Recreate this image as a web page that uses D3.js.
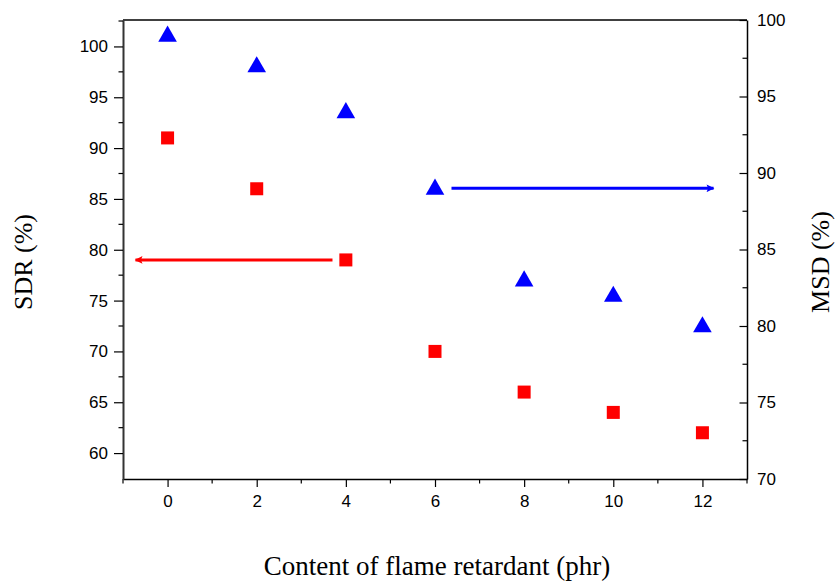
<!DOCTYPE html>
<html>
<head>
<meta charset="utf-8">
<script src="https://cdn.jsdelivr.net/npm/d3@7"></script>
<style>
  body { margin: 0; background: #fff; }
  .tick text { font-family: "Liberation Sans", Arial, sans-serif; font-size: 17px; fill: #000; }
  .title { font-family: "Liberation Serif", "Times New Roman", serif; font-size: 27px; fill: #000; }
  .ytitle { font-family: "Liberation Serif", "Times New Roman", serif; font-size: 26px; fill: #000; }
</style>
</head>
<body>
<div id="chart"></div>
<script>
const content = [0, 2, 4, 6, 8, 10, 12]
const sdr = [91, 86, 79, 70, 66, 64, 62]
const msd = [99, 97, 94, 89, 83, 82, 80]
const xTicks = [0, 2, 4, 6, 8, 10, 12]
const sdrTicks = [60, 65, 70, 75, 80, 85, 90, 95, 100]
const msdTicks = [70, 75, 80, 85, 90, 95, 100]

// arrows in data units: [x start, x end, y value]
const sdrArrow = [3.7, -0.72, 79]
const msdArrow = [6.37, 12.25, 89]

const width = 837
const height = 583
const margin = {top: 20, right: 90, bottom: 104, left: 123}

const svg = d3.select("#chart").append("svg")
  .attr("width", width)
  .attr("height", height)

const x = d3.scaleLinear().domain([-1, 13]).range([margin.left, width - margin.right])
const yL = d3.scaleLinear().domain([57.45, 102.6]).range([height - margin.bottom, margin.top])
const yR = d3.scaleLinear().domain([70, 100]).range([height - margin.bottom, margin.top])

const bottom = height - margin.bottom
const right = width - margin.right

// frame top line
svg.append("line")
  .attr("x1", margin.left).attr("x2", right)
  .attr("y1", margin.top).attr("y2", margin.top)
  .attr("stroke", "#000").attr("stroke-width", 1.5)

// bottom axis
const gx = svg.append("g")
  .attr("transform", `translate(0,${bottom})`)
  .call(d3.axisBottom(x).tickValues(xTicks).tickSize(8).tickPadding(8).tickFormat(d3.format("d")).tickSizeOuter(0))
gx.select(".domain").attr("stroke-width", 1.5)
gx.selectAll(".tick line").attr("stroke-width", 1.2)
gx.selectAll(".minor").data([-1, 1, 3, 5, 7, 9, 11, 13]).join("line").attr("class", "minor")
  .attr("x1", d => x(d)).attr("x2", d => x(d)).attr("y1", 0).attr("y2", 4.5)
  .attr("stroke", "#000").attr("stroke-width", 1.2)

// left axis
const gl = svg.append("g")
  .attr("transform", `translate(${margin.left},0)`)
  .call(d3.axisLeft(yL).tickValues(sdrTicks).tickSize(9).tickPadding(6).tickSizeOuter(0))
gl.select(".domain").attr("stroke-width", 2).attr("stroke", "#333")
gl.selectAll(".tick line").attr("stroke-width", 1.2)
gl.selectAll(".minor").data([62.5, 67.5, 72.5, 77.5, 82.5, 87.5, 92.5, 97.5, 102.5]).join("line").attr("class", "minor")
  .attr("x1", 0).attr("x2", -4.5).attr("y1", d => yL(d)).attr("y2", d => yL(d))
  .attr("stroke", "#000").attr("stroke-width", 1.2)

// right axis (ticks inward)
const gr = svg.append("g")
  .attr("transform", `translate(${right},0)`)
  .call(d3.axisRight(yR).tickValues(msdTicks).tickSize(0).tickPadding(10).tickSizeOuter(0))
gr.select(".domain").attr("stroke-width", 1.5)
gr.selectAll(".tick").append("line")
  .attr("x1", 0).attr("x2", -7.5).attr("stroke", "#000").attr("stroke-width", 1.2)
gr.selectAll(".minor").data([72.5, 77.5, 82.5, 87.5, 92.5, 97.5]).join("line").attr("class", "minor")
  .attr("x1", 0).attr("x2", -4.5).attr("y1", d => yR(d)).attr("y2", d => yR(d))
  .attr("stroke", "#000").attr("stroke-width", 1.2)

// arrow markers
const defs = svg.append("defs")
;[["arrRed", "red"], ["arrBlue", "blue"]].forEach(([id, c]) => {
  defs.append("marker")
    .attr("id", id)
    .attr("viewBox", "0 0 10 10")
    .attr("refX", 9).attr("refY", 5)
    .attr("markerWidth", 4.5).attr("markerHeight", 2.6)
    .attr("markerUnits", "strokeWidth")
    .attr("orient", "auto")
    .append("path").attr("d", "M0,0L10,5L0,10L2,5Z").attr("fill", c)
})

svg.append("line")
  .attr("x1", x(sdrArrow[0])).attr("x2", x(sdrArrow[1]))
  .attr("y1", yL(sdrArrow[2])).attr("y2", yL(sdrArrow[2]))
  .attr("stroke", "red").attr("stroke-width", 3)
  .attr("marker-end", "url(#arrRed)")

svg.append("line")
  .attr("x1", x(msdArrow[0])).attr("x2", x(msdArrow[1]))
  .attr("y1", yR(msdArrow[2])).attr("y2", yR(msdArrow[2]))
  .attr("stroke", "blue").attr("stroke-width", 3)
  .attr("marker-end", "url(#arrBlue)")

// SDR squares
svg.append("g").selectAll("rect")
  .data(content.map((c, i) => [c, sdr[i]]))
  .join("rect")
    .attr("x", d => x(d[0]) - 6.5)
    .attr("y", d => yL(d[1]) - 6.5)
    .attr("width", 13).attr("height", 13)
    .attr("fill", "red")

// MSD triangles
const tri = d3.symbol().type(d3.symbolTriangle).size(150)
svg.append("g").selectAll("path")
  .data(content.map((c, i) => [c, msd[i]]))
  .join("path")
    .attr("transform", d => `translate(${x(d[0])},${yR(d[1]) + 1})`)
    .attr("d", tri)
    .attr("fill", "blue")

// titles
svg.append("text").attr("class", "title")
  .attr("x", 437).attr("y", 575)
  .attr("text-anchor", "middle")
  .text("Content of flame retardant (phr)")

svg.append("text").attr("class", "ytitle")
  .attr("transform", `translate(32,262) rotate(-90)`)
  .attr("text-anchor", "middle")
  .text("SDR (%)")

svg.append("text").attr("class", "ytitle")
  .attr("transform", `translate(829,262) rotate(-90)`)
  .attr("text-anchor", "middle")
  .text("MSD (%)")
</script>
</body>
</html>
